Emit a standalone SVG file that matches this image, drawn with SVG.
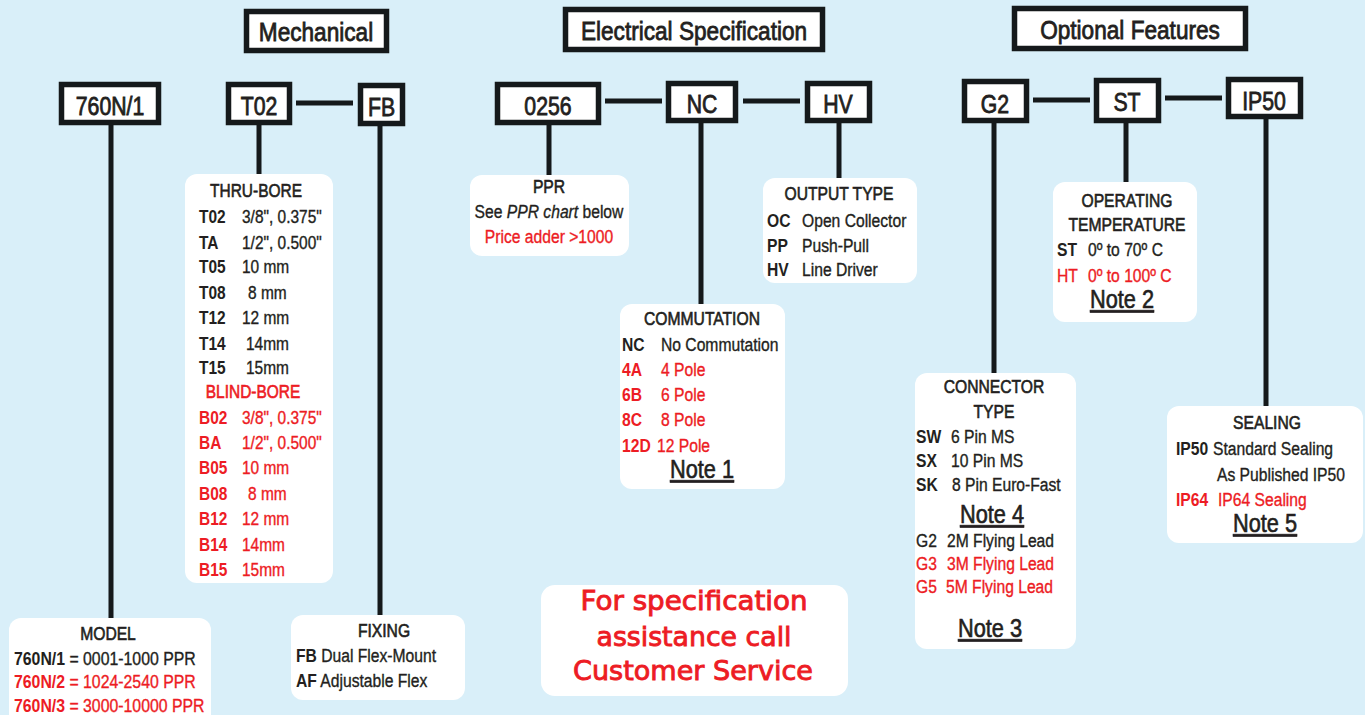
<svg xmlns="http://www.w3.org/2000/svg" width="1365" height="715" viewBox="0 0 1365 715">
<style>
text{font-family:"Liberation Sans",Arial,sans-serif;fill:#231f20;stroke:#231f20;stroke-width:.35;font-size:18px}
.b{font-weight:bold;stroke-width:0}
.r{fill:#ed1c24;stroke:#ed1c24}
.m{text-anchor:middle}
.t{stroke-width:.6}
.h{font-size:26px;stroke-width:.8}
.k{font-size:25px;stroke-width:.8}
.n{font-size:25px;text-decoration:underline;stroke-width:.6}
.box{fill:#fff;stroke:#15191b;stroke-width:5.5}
.card{fill:#fff}
.ln{stroke:#15191b;stroke-width:5;fill:none}
.cs{font-family:"DejaVu Sans",Verdana,sans-serif;font-size:27px;fill:#ed1c24;stroke:#ed1c24;stroke-width:.9;text-anchor:middle}
</style>
<rect width="1365" height="715" fill="#d9eff9"/>

<g id="connectors">
<line class="ln" x1="296" y1="103" x2="353" y2="103"/>
<line class="ln" x1="605" y1="101" x2="662" y2="101"/>
<line class="ln" x1="743" y1="101" x2="800" y2="101"/>
<line class="ln" x1="1033" y1="100" x2="1090" y2="100"/>
<line class="ln" x1="1165" y1="98" x2="1222" y2="98"/>
<line class="ln" x1="111" y1="125" x2="111" y2="619"/>
<line class="ln" x1="259" y1="125" x2="259" y2="175"/>
<line class="ln" x1="380" y1="126" x2="380" y2="616"/>
<line class="ln" x1="549" y1="125" x2="549" y2="176"/>
<line class="ln" x1="701" y1="123" x2="701" y2="305"/>
<line class="ln" x1="839" y1="123" x2="839" y2="179"/>
<line class="ln" x1="994" y1="123" x2="994" y2="374"/>
<line class="ln" x1="1126" y1="123" x2="1126" y2="183"/>
<line class="ln" x1="1266" y1="119" x2="1266" y2="407"/>
</g>

<g id="hdr-mechanical">
<rect class="box" x="246.5" y="11.5" width="140" height="39"/>
<text class="h m" transform="translate(316 41) scale(.87 1)">Mechanical</text>
</g>
<g id="hdr-electrical">
<rect class="box" x="565.5" y="9.5" width="257" height="40"/>
<text class="h m" transform="translate(694 40) scale(.87 1)">Electrical Specification</text>
</g>
<g id="hdr-optional">
<rect class="box" x="1014.5" y="8.5" width="231" height="40"/>
<text class="h m" transform="translate(1130 39) scale(.87 1)">Optional Features</text>
</g>

<g id="code-760N1">
<rect class="box" x="61.5" y="84.5" width="97" height="38"/>
<text class="k m" transform="translate(110 115) scale(.85 1)">760N/1</text>
</g>
<g id="code-T02">
<rect class="box" x="228.5" y="84.5" width="61" height="38"/>
<text class="k m" transform="translate(259 115) scale(.85 1)">T02</text>
</g>
<g id="code-FB">
<rect class="box" x="360.5" y="85.5" width="42" height="38"/>
<text class="k m" transform="translate(381.5 116) scale(.85 1)">FB</text>
</g>
<g id="code-0256">
<rect class="box" x="497.5" y="84.5" width="101" height="38"/>
<text class="k m" transform="translate(548 115) scale(.85 1)">0256</text>
</g>
<g id="code-NC">
<rect class="box" x="668.5" y="83.5" width="67" height="37"/>
<text class="k m" transform="translate(702 113) scale(.85 1)">NC</text>
</g>
<g id="code-HV">
<rect class="box" x="807.5" y="83.5" width="62" height="37"/>
<text class="k m" transform="translate(838 113) scale(.85 1)">HV</text>
</g>
<g id="code-G2">
<rect class="box" x="964.5" y="81.5" width="62" height="39"/>
<text class="k m" transform="translate(995 113) scale(.85 1)">G2</text>
</g>
<g id="code-ST">
<rect class="box" x="1096.5" y="80.5" width="62" height="40"/>
<text class="k m" transform="translate(1127 111) scale(.85 1)">ST</text>
</g>
<g id="code-IP50">
<rect class="box" x="1228.5" y="79.5" width="72" height="37"/>
<text class="k m" transform="translate(1264 110) scale(.85 1)">IP50</text>
</g>

<g id="card-bore">
<rect class="card" x="185" y="174" width="148" height="409" rx="12"/>
<text class="m t" transform="translate(256 197) scale(.86 1)">THRU-BORE</text>
<text class="b" transform="translate(199 223) scale(.86 1)">T02</text><text transform="translate(242 223) scale(.86 1)">3/8", 0.375"</text>
<text class="b" transform="translate(199 249) scale(.86 1)">TA</text><text transform="translate(242 249) scale(.86 1)">1/2", 0.500"</text>
<text class="b" transform="translate(199 273) scale(.86 1)">T05</text><text transform="translate(242 273) scale(.86 1)">10 mm</text>
<text class="b" transform="translate(199 299) scale(.86 1)">T08</text><text transform="translate(248 299) scale(.86 1)">8 mm</text>
<text class="b" transform="translate(199 324) scale(.86 1)">T12</text><text transform="translate(242 324) scale(.86 1)">12 mm</text>
<text class="b" transform="translate(199 350) scale(.86 1)">T14</text><text transform="translate(246 350) scale(.86 1)">14mm</text>
<text class="b" transform="translate(199 374) scale(.86 1)">T15</text><text transform="translate(246 374) scale(.86 1)">15mm</text>
<text class="m r t" transform="translate(253 398) scale(.86 1)">BLIND-BORE</text>
<text class="b r" transform="translate(199 424) scale(.86 1)">B02</text><text class="r" transform="translate(242 424) scale(.86 1)">3/8", 0.375"</text>
<text class="b r" transform="translate(199 449) scale(.86 1)">BA</text><text class="r" transform="translate(242 449) scale(.86 1)">1/2", 0.500"</text>
<text class="b r" transform="translate(199 474) scale(.86 1)">B05</text><text class="r" transform="translate(242 474) scale(.86 1)">10 mm</text>
<text class="b r" transform="translate(199 500) scale(.86 1)">B08</text><text class="r" transform="translate(248 500) scale(.86 1)">8 mm</text>
<text class="b r" transform="translate(199 525) scale(.86 1)">B12</text><text class="r" transform="translate(242 525) scale(.86 1)">12 mm</text>
<text class="b r" transform="translate(199 551) scale(.86 1)">B14</text><text class="r" transform="translate(242 551) scale(.86 1)">14mm</text>
<text class="b r" transform="translate(199 576) scale(.86 1)">B15</text><text class="r" transform="translate(242 576) scale(.86 1)">15mm</text>
</g>

<g id="card-model">
<rect class="card" x="9" y="618" width="202" height="110" rx="12"/>
<text class="m t" transform="translate(108 640) scale(.87 1)">MODEL</text>
<text transform="translate(14 665) scale(.88 1)"><tspan class="b">760N/1</tspan> = 0001-1000 PPR</text>
<text class="r" transform="translate(14 688) scale(.88 1)"><tspan class="b">760N/2</tspan> = 1024-2540 PPR</text>
<text class="r" transform="translate(14 712) scale(.88 1)"><tspan class="b">760N/3</tspan> = 3000-10000 PPR</text>
</g>

<g id="card-fixing">
<rect class="card" x="291" y="615" width="174" height="85" rx="12"/>
<text class="m t" transform="translate(384 637) scale(.87 1)">FIXING</text>
<text transform="translate(296 662) scale(.87 1)"><tspan class="b">FB</tspan> Dual Flex-Mount</text>
<text transform="translate(296 687) scale(.87 1)"><tspan class="b">AF</tspan> Adjustable Flex</text>
</g>

<g id="card-ppr">
<rect class="card" x="470" y="175" width="159" height="81" rx="12"/>
<text class="m t" transform="translate(549 193) scale(.87 1)">PPR</text>
<text class="m" transform="translate(549 218) scale(.87 1)">See <tspan font-style="italic">PPR chart</tspan> below</text>
<text class="m r" transform="translate(549 243) scale(.87 1)">Price adder &gt;1000</text>
</g>

<g id="card-output">
<rect class="card" x="763" y="178" width="154" height="105" rx="12"/>
<text class="m t" transform="translate(839 200) scale(.87 1)">OUTPUT TYPE</text>
<text class="b" transform="translate(767 227) scale(.87 1)">OC</text><text transform="translate(802 227) scale(.87 1)">Open Collector</text>
<text class="b" transform="translate(767 252) scale(.87 1)">PP</text><text transform="translate(802 252) scale(.87 1)">Push-Pull</text>
<text class="b" transform="translate(767 276) scale(.87 1)">HV</text><text transform="translate(802 276) scale(.87 1)">Line Driver</text>
</g>

<g id="card-commutation">
<rect class="card" x="620" y="304" width="165" height="185" rx="12"/>
<text class="m t" transform="translate(702 325) scale(.87 1)">COMMUTATION</text>
<text class="b" transform="translate(622 351) scale(.87 1)">NC</text><text transform="translate(661 351) scale(.87 1)">No Commutation</text>
<text class="b r" transform="translate(622 376) scale(.87 1)">4A</text><text class="r" transform="translate(661 376) scale(.87 1)">4 Pole</text>
<text class="b r" transform="translate(622 401) scale(.87 1)">6B</text><text class="r" transform="translate(661 401) scale(.87 1)">6 Pole</text>
<text class="b r" transform="translate(622 426) scale(.87 1)">8C</text><text class="r" transform="translate(661 426) scale(.87 1)">8 Pole</text>
<text class="b r" transform="translate(622 452) scale(.87 1)">12D</text><text class="r" transform="translate(657 452) scale(.87 1)">12 Pole</text>
<text class="n m" transform="translate(702 478) scale(.87 1)">Note 1</text>
</g>

<g id="card-service">
<rect class="card" x="541" y="585" width="307" height="111" rx="14"/>
<text class="cs" x="694" y="610" textLength="227" lengthAdjust="spacingAndGlyphs">For specification</text>
<text class="cs" x="694" y="646" textLength="195" lengthAdjust="spacingAndGlyphs">assistance call</text>
<text class="cs" x="693" y="680" textLength="240" lengthAdjust="spacingAndGlyphs">Customer Service</text>
</g>

<g id="card-temperature">
<rect class="card" x="1053" y="182" width="144" height="140" rx="12"/>
<text class="m t" transform="translate(1127 207) scale(.87 1)">OPERATING</text>
<text class="m t" transform="translate(1127 231) scale(.87 1)">TEMPERATURE</text>
<text class="b" transform="translate(1057 256) scale(.87 1)">ST</text><text transform="translate(1088 256) scale(.87 1)">0º to 70º C</text>
<text class="r" transform="translate(1057 282) scale(.87 1)">HT</text><text class="r" transform="translate(1088 282) scale(.87 1)">0º to 100º C</text>
<text class="n m" transform="translate(1122 308) scale(.87 1)">Note 2</text>
</g>

<g id="card-connector">
<rect class="card" x="915" y="373" width="161" height="276" rx="12"/>
<text class="m t" transform="translate(994 393) scale(.87 1)">CONNECTOR</text>
<text class="m t" transform="translate(994 418) scale(.87 1)">TYPE</text>
<text class="b" transform="translate(916 443) scale(.87 1)">SW</text><text transform="translate(951 443) scale(.87 1)">6 Pin MS</text>
<text class="b" transform="translate(916 467) scale(.87 1)">SX</text><text transform="translate(951 467) scale(.87 1)">10 Pin MS</text>
<text class="b" transform="translate(916 491) scale(.87 1)">SK</text><text transform="translate(952 491) scale(.87 1)">8 Pin Euro-Fast</text>
<text class="n m" transform="translate(992 523) scale(.87 1)">Note 4</text>
<text transform="translate(916 547) scale(.87 1)">G2</text><text transform="translate(947 547) scale(.87 1)">2M Flying Lead</text>
<text class="r" transform="translate(916 570) scale(.87 1)">G3</text><text class="r" transform="translate(947 570) scale(.87 1)">3M Flying Lead</text>
<text class="r" transform="translate(916 593) scale(.87 1)">G5</text><text class="r" transform="translate(946 593) scale(.87 1)">5M Flying Lead</text>
<text class="n m" transform="translate(990 637) scale(.87 1)">Note 3</text>
</g>

<g id="card-sealing">
<rect class="card" x="1167" y="406" width="196" height="137" rx="12"/>
<text class="m t" transform="translate(1267 429) scale(.87 1)">SEALING</text>
<text class="b" transform="translate(1176 455) scale(.87 1)">IP50</text><text transform="translate(1213 455) scale(.87 1)">Standard Sealing</text>
<text transform="translate(1217 481) scale(.87 1)">As Published IP50</text>
<text class="b r" transform="translate(1176 506) scale(.87 1)">IP64</text><text class="r" transform="translate(1218 506) scale(.87 1)">IP64 Sealing</text>
<text class="n m" transform="translate(1265 532) scale(.87 1)">Note 5</text>
</g>
</svg>
